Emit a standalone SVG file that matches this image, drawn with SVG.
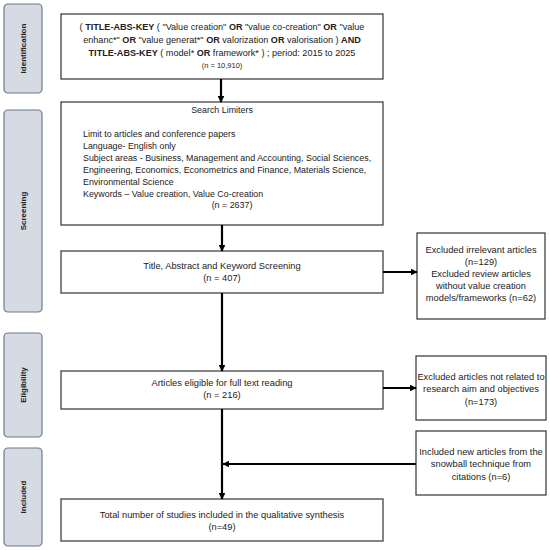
<svg xmlns="http://www.w3.org/2000/svg" width="550" height="550" viewBox="0 0 550 550">
<style>
.bg{fill:#fff}
.lbl rect{fill:#d5dae3;stroke:#6b7a8f;stroke-width:1.2}
.lbl text{font-family:"Liberation Sans",Arial,sans-serif;font-size:8px;font-weight:bold;fill:#222;text-anchor:middle}
.box rect{fill:#fff;stroke:#333;stroke-width:1.2}
.box text{font-family:"Liberation Sans",Arial,sans-serif;font-size:9.3px;fill:#222}
.c{text-anchor:middle}
.sm{font-size:7.5px}
.b{font-weight:bold}
.q text{font-size:9.1px}
.lim text{font-size:8.9px}
.conn line{stroke:#000;stroke-width:2.2;marker-end:url(#ah)}
</style>
<defs>
<marker id="ah" viewBox="0 0 10 10" refX="9" refY="5" markerWidth="3" markerHeight="3" orient="auto" markerUnits="strokeWidth">
<path d="M0,0 L10,5 L0,10 z" fill="#000"/>
</marker>
</defs>
<rect class="bg" x="0" y="0" width="550" height="550"/>
<g id="label-identification" class="lbl"><rect x="4" y="4" width="38" height="89" rx="4"/><text transform="translate(26,48.5) rotate(-90)">Identification</text></g>
<g id="label-screening" class="lbl"><rect x="4" y="110" width="38" height="202" rx="4"/><text transform="translate(26,211) rotate(-90)">Screening</text></g>
<g id="label-eligibility" class="lbl"><rect x="4" y="333" width="38" height="104" rx="4"/><text transform="translate(26,385) rotate(-90)">Eligibility</text></g>
<g id="label-included" class="lbl"><rect x="4" y="448" width="38" height="98" rx="4"/><text transform="translate(26,497) rotate(-90)">Included</text></g>

<g id="node-query" class="box q">
<rect x="61" y="14" width="322" height="65"/>
<text class="c" x="222" y="30">( <tspan class="b">TITLE-ABS-KEY</tspan> ( "Value creation" <tspan class="b">OR</tspan> "value co-creation" <tspan class="b">OR</tspan> "value</text>
<text class="c" x="222" y="43">enhanc*" <tspan class="b">OR</tspan> "value generat*" <tspan class="b">OR</tspan> valorization <tspan class="b">OR</tspan> valorisation ) <tspan class="b">AND</tspan></text>
<text class="c" x="222" y="56"><tspan class="b">TITLE-ABS-KEY</tspan> ( model* <tspan class="b">OR</tspan> framework* ) ; period: 2015 to 2025</text>
<text class="c sm" x="222" y="68" style="font-size:7.5px">(n = 10,910)</text>
</g>

<g id="node-limiters" class="box lim">
<rect x="61" y="102" width="322" height="123"/>
<text class="c" x="222" y="113">Search Limiters</text>
<text x="83" y="137">Limit to articles and conference papers</text>
<text x="83" y="149">Language- English only</text>
<text x="83" y="161">Subject areas - Business, Management and Accounting, Social Sciences,</text>
<text x="83" y="173">Engineering, Economics, Econometrics and Finance, Materials Science,</text>
<text x="83" y="185">Environmental Science</text>
<text x="83" y="197">Keywords – Value creation, Value Co-creation</text>
<text class="c" x="232" y="208">(n = 2637)</text>
</g>

<g id="node-screening" class="box">
<rect x="61" y="251" width="322" height="42"/>
<text class="c" x="222" y="269">Title, Abstract and Keyword Screening</text>
<text class="c" x="222" y="281">(n = 407)</text>
</g>

<g id="node-excluded1" class="box">
<rect x="417" y="233" width="128" height="86"/>
<text class="c" x="481" y="253">Excluded irrelevant articles</text>
<text class="c" x="481" y="265">(n=129)</text>
<text class="c" x="481" y="277">Excluded review articles</text>
<text class="c" x="481" y="288.5">without value creation</text>
<text class="c" x="481" y="300.5">models/frameworks (n=62)</text>
</g>

<g id="node-eligible" class="box">
<rect x="61" y="371" width="322" height="38"/>
<text class="c" x="222" y="386">Articles eligible for full text reading</text>
<text class="c" x="222" y="398">(n = 216)</text>
</g>

<g id="node-excluded2" class="box">
<rect x="416" y="356" width="130" height="64"/>
<text class="c" x="481" y="380">Excluded articles not related to</text>
<text class="c" x="481" y="392">research aim and objectives</text>
<text class="c" x="481" y="405">(n=173)</text>
</g>

<g id="node-snowball" class="box">
<rect x="416" y="431" width="130" height="64"/>
<text class="c" x="481" y="455">Included new articles from the</text>
<text class="c" x="481" y="467">snowball technique from</text>
<text class="c" x="481" y="480">citations (n=6)</text>
</g>

<g id="node-total" class="box">
<rect x="61" y="499" width="322" height="42"/>
<text class="c" x="222" y="518">Total number of studies included in the qualitative synthesis</text>
<text class="c" x="222" y="530">(n=49)</text>
</g>

<g id="connectors" class="conn">
<line x1="221" y1="79" x2="221" y2="102"/>
<line x1="222" y1="225" x2="222" y2="251"/>
<line x1="222" y1="293" x2="222" y2="371"/>
<line x1="383" y1="272" x2="417" y2="272"/>
<line x1="383" y1="388" x2="416" y2="388"/>
<line x1="222" y1="409" x2="222" y2="499"/>
<line x1="416" y1="464" x2="223" y2="464"/>
</g>
</svg>
